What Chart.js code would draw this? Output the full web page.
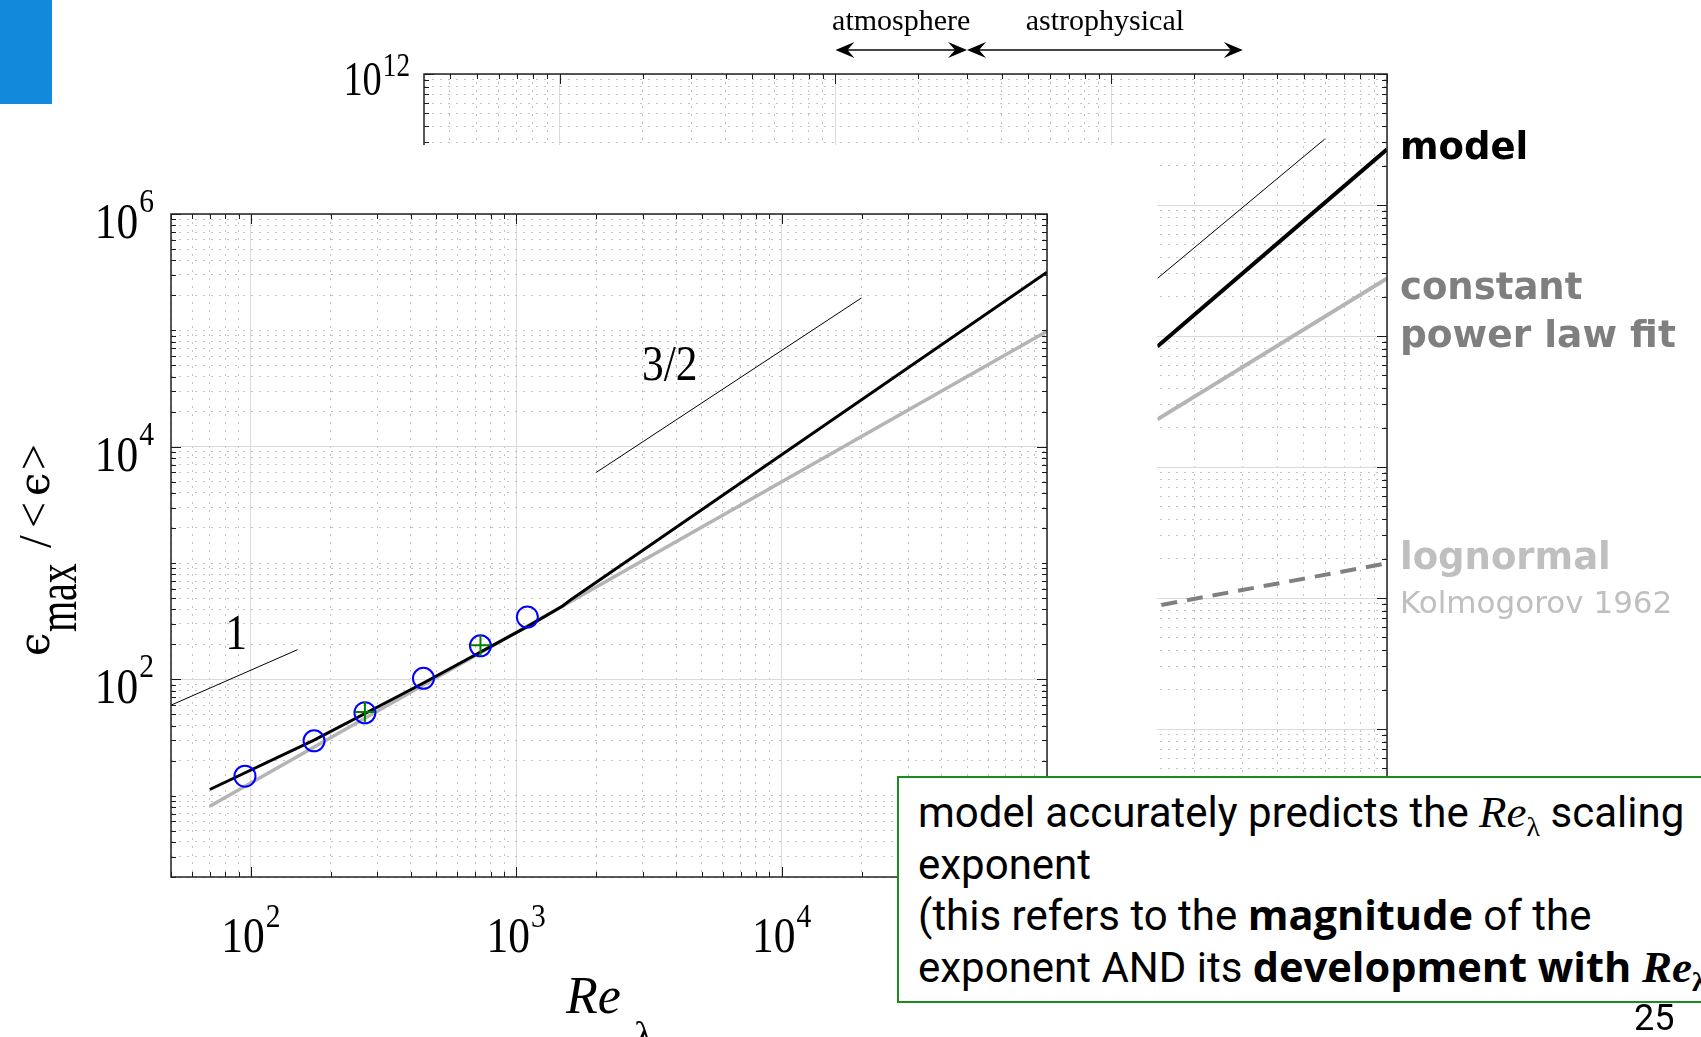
<!DOCTYPE html>
<html>
<head>
<meta charset="utf-8">
<script src="https://cdn.jsdelivr.net/npm/chart.js@4.4.1/dist/chart.umd.min.js"></script>
<style>
  html, body { margin: 0; padding: 0; background: #fff; }
  body { width: 1701px; height: 1037px; position: relative; overflow: hidden; }
  canvas { position: absolute; left: 0; top: 0; }
  .tab { position: absolute; left: 0; top: 0; width: 52px; height: 104px; background: #1289db; }
  .lab { position: absolute; left: 1400px; font-family: "DejaVu Sans", Verdana, sans-serif; font-weight: bold; font-size: 37px; line-height: normal; white-space: nowrap; }
  .note { position: absolute; left: 897px; top: 776px; width: 1000px; height: 227px; box-sizing: border-box;
          border: 2px solid #1c8c1c; background: #fff; padding: 9px 0 0 19px;
          font-family: Roboto, sans-serif; font-size: 42px; line-height: 51.7px; white-space: nowrap; color: #000; }
  .note b { font-family: "Open Sans", sans-serif; font-weight: 700; font-size: 41.5px; line-height: 0; }
  .re { font-family: "Liberation Serif", serif; font-style: italic; font-size: 45px; line-height: 0; }
  .re sub { font-style: normal; font-size: 28px; vertical-align: baseline; position: relative; top: 9px; line-height: 0; }
  .page { position: absolute; left: 1634px; top: 997px; font-family: Roboto, sans-serif; font-size: 36px; line-height: normal; }
</style>
</head>
<body>
<canvas id="bg" width="1701" height="1037"></canvas>
<canvas id="main" width="1701" height="1037"></canvas>
<div class="tab"></div>
<div class="lab" style="top:125px;color:#000">model</div>
<div class="lab" style="top:265px;color:#7f7f7f">constant</div>
<div class="lab" style="top:312px;color:#7f7f7f;font-size:37.5px">power law fit</div>
<div class="lab" style="top:535px;color:#bfbfbf">lognormal</div>
<div class="lab" style="top:584px;color:#bfbfbf;font-weight:normal;font-size:31px">Kolmogorov 1962</div>
<div class="note">model accurately predicts the <span class="re">Re<sub>λ</sub></span> scaling<br>exponent<br>(this refers to the <b>magnitude</b> of the<br>exponent AND its <b>development with <span class="re" style="font-weight:bold">Re<sub>λ</sub></span></b></div>
<div class="page">25</div>
<script>
// ---- main panel (Re_lambda up to 1e5) ----
const mainXRange = [50, 1e5];
const mainYRange = [2, 1e6];
const mainXLabelExp = [2, 3, 4];
const mainYLabelExp = [2, 4, 6];

// DNS points (open circles) and experiment points (plus)
const dnsRe = [95, 173, 269, 447, 733, 1101];
const dnsEps = [14.7, 29.6, 51.6, 102, 194, 343];
const expRe = [269, 733];
const expEps = [52.5, 196];

// model curve
const modelRe = [70, 173, 447, 1101, 1496, 1615, 3000, 10000, 100000];
const modelEps = [11.3, 30, 93, 284, 427, 489, 1290, 8530, 316000];

// constant power law fit
const powerRe = [70, 100000];
const powerEps = [8.1, 98000];

// slope guides
const slope1Re = [50, 150];
const slope1Eps = [60, 180];
const slope32Re = [2000, 20000];
const slope32Eps = [6000, 190000];
const slopeNames = ['1', '3/2'];
const slopeNameRe = [88, 3790];
const slopeNameEps = [183, 37100];

// ---- extended panel (up to 1e12) ----
const bigXRange = [322, 1e6];
const bigYRange = [1e5, 1e12];
const bigXMajorExp = [3, 4, 5, 6];
const bigYMajorExp = [5, 6, 7, 8, 9, 10, 11, 12];
const bigYLabelExp = [12];

const bigModelRe = [147000, 1e6];
const bigModelEps = [8.3e9, 2.66e11];
const bigSlopeRe = [147000, 594000];
const bigSlopeEps = [2.75e10, 3.18e11];
const bigPowerRe = [147000, 1e6];
const bigPowerEps = [2.31e9, 2.75e10];
const bigLogRe = [152000, 1e6];
const bigLogEps = [8.85e7, 1.84e8];

const regimeNames = ['atmosphere', 'astrophysical'];
const regimeFrom = [1e4, 3e4];
const regimeTo = [3e4, 3e5];

// visible part of the extended panel: top strip + right column
const stripBottomEps = 2.87e11;
const columnLeftRe = 147000;

const SERIF = '"Liberation Serif", "Times New Roman", "DejaVu Serif", serif';
const EPS_FONT = '"DejaVu Serif", serif';

function pts(xs, ys) {
    return xs.map((x, i) => ({ x: x, y: ys[i] }));
}

// 1..9 x 10^n ticks, majors only at listed decades
function decadeTicks(min, max, majorExps) {
    const ticks = [];
    for (let e = Math.floor(Math.log10(min)); e <= Math.ceil(Math.log10(max)); e++) {
        for (let m = 1; m <= 9; m++) {
            const v = m * Math.pow(10, e);
            if (v < min * 0.9999 || v > max * 1.0001) continue;
            ticks.push({ value: v, major: m === 1 && majorExps.includes(e) });
        }
    }
    return ticks;
}

function logAxis(range, majorExps, horizontal) {
    return {
        type: 'logarithmic',
        min: range[0],
        max: range[1],
        bounds: 'data',
        afterBuildTicks: (s) => { s.ticks = decadeTicks(range[0], range[1], majorExps); },
        afterFit: (s) => { if (horizontal) s.height = 0; else s.width = 0; },
        ticks: { display: false, autoSkip: false },
        grid: {
            drawTicks: false,
            lineWidth: 1,
            color: (c) => (c.tick && c.tick.major) ? '#dadada' : '#c4c4c4'
        },
        border: {
            display: false,
            dash: (c) => (c.tick && c.tick.major) ? [] : [2, 6]
        }
    };
}

// "10" with a raised exponent, squeezed a little like the exported figure
function powLabel(ctx, exp, x, base, align, s) {
    ctx.save();
    ctx.font = s.size + 'px ' + SERIF;
    const w1 = ctx.measureText('10').width * s.sx;
    ctx.font = s.sup + 'px ' + SERIF;
    const w2 = ctx.measureText(String(exp)).width * s.sx;
    const total = w1 + s.gap + w2;
    const left = align === 'center' ? x - total / 2 : x - total;
    ctx.translate(left, base);
    ctx.scale(s.sx, 1);
    ctx.fillStyle = '#000';
    ctx.textAlign = 'left';
    ctx.textBaseline = 'alphabetic';
    ctx.font = s.size + 'px ' + SERIF;
    ctx.fillText('10', 0, 0);
    ctx.font = s.sup + 'px ' + SERIF;
    ctx.fillText(String(exp), (w1 + s.gap) / s.sx, -s.rise);
    ctx.restore();
}

// matlab style box with inward ticks
function drawBox(chart) {
    const { ctx, chartArea: a } = chart;
    const x = chart.scales.x, y = chart.scales.y;
    ctx.save();
    ctx.strokeStyle = '#1a1a1a';
    ctx.lineWidth = 1;
    ctx.beginPath();
    x.ticks.forEach((t) => {
        const p = Math.round(x.getPixelForValue(t.value)) + 0.5;
        const L = t.major ? 10 : 5;
        ctx.moveTo(p, a.top); ctx.lineTo(p, a.top + L);
        ctx.moveTo(p, a.bottom); ctx.lineTo(p, a.bottom - L);
    });
    y.ticks.forEach((t) => {
        const p = Math.round(y.getPixelForValue(t.value)) + 0.5;
        const L = t.major ? 10 : 5;
        ctx.moveTo(a.left, p); ctx.lineTo(a.left + L, p);
        ctx.moveTo(a.right, p); ctx.lineTo(a.right - L, p);
    });
    ctx.stroke();
    ctx.lineWidth = 1.5;
    ctx.strokeStyle = '#222';
    ctx.strokeRect(a.left, a.top, a.right - a.left, a.bottom - a.top);
    ctx.restore();
}

function arrowHead(ctx, tip, yy, dir) {
    const L = 19, W = 8, notch = 7;
    ctx.beginPath();
    ctx.moveTo(tip, yy);
    ctx.lineTo(tip - dir * L, yy - W);
    ctx.lineTo(tip - dir * (L - notch), yy);
    ctx.lineTo(tip - dir * L, yy + W);
    ctx.closePath();
    ctx.fill();
}

const mainDecor = {
    id: 'mainDecor',
    afterDraw(chart) {
        const { ctx, chartArea: a } = chart;
        const x = chart.scales.x, y = chart.scales.y;
        drawBox(chart);
        const st = { size: 50, sup: 34, sx: 0.87, gap: 1, rise: 25 };
        mainXLabelExp.forEach((e) => powLabel(ctx, e, x.getPixelForValue(Math.pow(10, e)), a.bottom + 75, 'center', st));
        mainYLabelExp.forEach((e) => powLabel(ctx, e, a.left - 17, y.getPixelForValue(Math.pow(10, e)) + 24, 'right', { size: 50, sup: 34, sx: 0.87, gap: 1, rise: 26 }));

        // slope labels
        ctx.save();
        ctx.fillStyle = '#000';
        ctx.font = '50px ' + SERIF;
        ctx.textAlign = 'center';
        slopeNames.forEach((n, i) => {
            ctx.save();
            ctx.translate(x.getPixelForValue(slopeNameRe[i]), y.getPixelForValue(slopeNameEps[i]));
            ctx.scale(0.87, 1);
            ctx.fillText(n, 0, 0);
            ctx.restore();
        });
        ctx.restore();

        // x title: Re_lambda
        ctx.save();
        ctx.fillStyle = '#000';
        ctx.textAlign = 'left';
        ctx.font = 'italic 52px ' + SERIF;
        ctx.fillText('Re', 566, 1013);
        ctx.font = '40px ' + SERIF;
        ctx.fillText('λ', 634, 1049);
        ctx.restore();

        // y title: eps_max / <eps>
        ctx.save();
        ctx.fillStyle = '#000';
        ctx.translate(49, 656);
        ctx.rotate(-Math.PI / 2);
        ctx.textAlign = 'left';
        ctx.font = '42px ' + EPS_FONT;
        ctx.fillText('ϵ', 0, 0);
        ctx.save();
        ctx.translate(24, 27);
        ctx.scale(1, 1.4);
        ctx.font = '40px ' + SERIF;
        ctx.fillText('max', 0, 0);
        ctx.restore();
        ctx.font = '46px ' + SERIF;
        ctx.fillText('/', 108, 2);
        ctx.fillText('<', 128, 0);
        ctx.font = '42px ' + EPS_FONT;
        ctx.fillText('ϵ', 160, 0);
        ctx.font = '46px ' + SERIF;
        ctx.fillText('>', 186, 0);
        ctx.restore();
    }
};

const bigDecor = {
    id: 'bigDecor',
    afterDraw(chart) {
        const { ctx, chartArea: a } = chart;
        const x = chart.scales.x, y = chart.scales.y;
        drawBox(chart);

        // white out everything except the top strip and the right column
        const colLeft = x.getPixelForValue(columnLeftRe);
        const stripBottom = y.getPixelForValue(stripBottomEps);
        ctx.save();
        ctx.fillStyle = '#fff';
        ctx.fillRect(0, stripBottom, colLeft, chart.height - stripBottom);
        ctx.restore();

        bigYLabelExp.forEach((e) => powLabel(ctx, e, a.left - 14, y.getPixelForValue(Math.pow(10, e)) + 21, 'right', { size: 48, sup: 34, sx: 0.8, gap: 1, rise: 19 }));

        // regime arrows above the panel
        const ay = a.top - 24;
        ctx.save();
        ctx.strokeStyle = '#444';
        ctx.fillStyle = '#000';
        ctx.lineWidth = 2;
        regimeNames.forEach((n, i) => {
            const x0 = x.getPixelForValue(regimeFrom[i]);
            const x1 = x.getPixelForValue(regimeTo[i]);
            ctx.beginPath();
            ctx.moveTo(x0 + 4, ay);
            ctx.lineTo(x1 - 4, ay);
            ctx.stroke();
            arrowHead(ctx, x0, ay, -1);
            arrowHead(ctx, x1, ay, 1);
            ctx.font = '30px ' + SERIF;
            ctx.textAlign = 'center';
            ctx.fillText(n, (x0 + x1) / 2, a.top - 44);
        });
        ctx.restore();
    }
};

const common = {
    responsive: false,
    animation: false,
    devicePixelRatio: 1,
    events: [],
    plugins: { legend: { display: false }, tooltip: { enabled: false } }
};

new Chart(document.getElementById('bg'), {
    type: 'scatter',
    data: {
        datasets: [
            { data: pts(bigModelRe, bigModelEps), showLine: true, borderColor: '#000', borderWidth: 4, pointRadius: 0 },
            { data: pts(bigSlopeRe, bigSlopeEps), showLine: true, borderColor: '#000', borderWidth: 1, pointRadius: 0 },
            { data: pts(bigPowerRe, bigPowerEps), showLine: true, borderColor: '#b4b4b4', borderWidth: 4, pointRadius: 0 },
            { data: pts(bigLogRe, bigLogEps), showLine: true, borderColor: '#808080', borderWidth: 4, borderDash: [16, 10], pointRadius: 0 }
        ]
    },
    options: Object.assign({}, common, {
        layout: { padding: { left: 424, top: 74, right: 314, bottom: 46 } },
        scales: {
            x: logAxis(bigXRange, bigXMajorExp, true),
            y: logAxis(bigYRange, bigYMajorExp, false)
        }
    }),
    plugins: [bigDecor]
});

new Chart(document.getElementById('main'), {
    type: 'scatter',
    data: {
        datasets: [
            { data: pts(expRe, expEps), pointStyle: 'cross', pointRadius: 10, pointBorderColor: '#008000', pointBorderWidth: 2, pointBackgroundColor: 'rgba(0,0,0,0)' },
            { data: pts(dnsRe, dnsEps), pointStyle: 'circle', pointRadius: 10.5, pointBorderColor: '#0000ff', pointBorderWidth: 2, pointBackgroundColor: 'rgba(0,0,0,0)' },
            { data: pts(modelRe, modelEps), showLine: true, borderColor: '#000', borderWidth: 3, pointRadius: 0 },
            { data: pts(powerRe, powerEps), showLine: true, borderColor: '#b4b4b4', borderWidth: 3.5, pointRadius: 0 },
            { data: pts(slope1Re, slope1Eps), showLine: true, borderColor: '#000', borderWidth: 1, pointRadius: 0 },
            { data: pts(slope32Re, slope32Eps), showLine: true, borderColor: '#000', borderWidth: 1, pointRadius: 0 }
        ]
    },
    options: Object.assign({}, common, {
        layout: { padding: { left: 171, top: 214, right: 654, bottom: 160 } },
        scales: {
            x: logAxis(mainXRange, mainXLabelExp.concat([5]), true),
            y: logAxis(mainYRange, mainYLabelExp, false)
        }
    }),
    plugins: [mainDecor]
});
</script>
</body>
</html>
